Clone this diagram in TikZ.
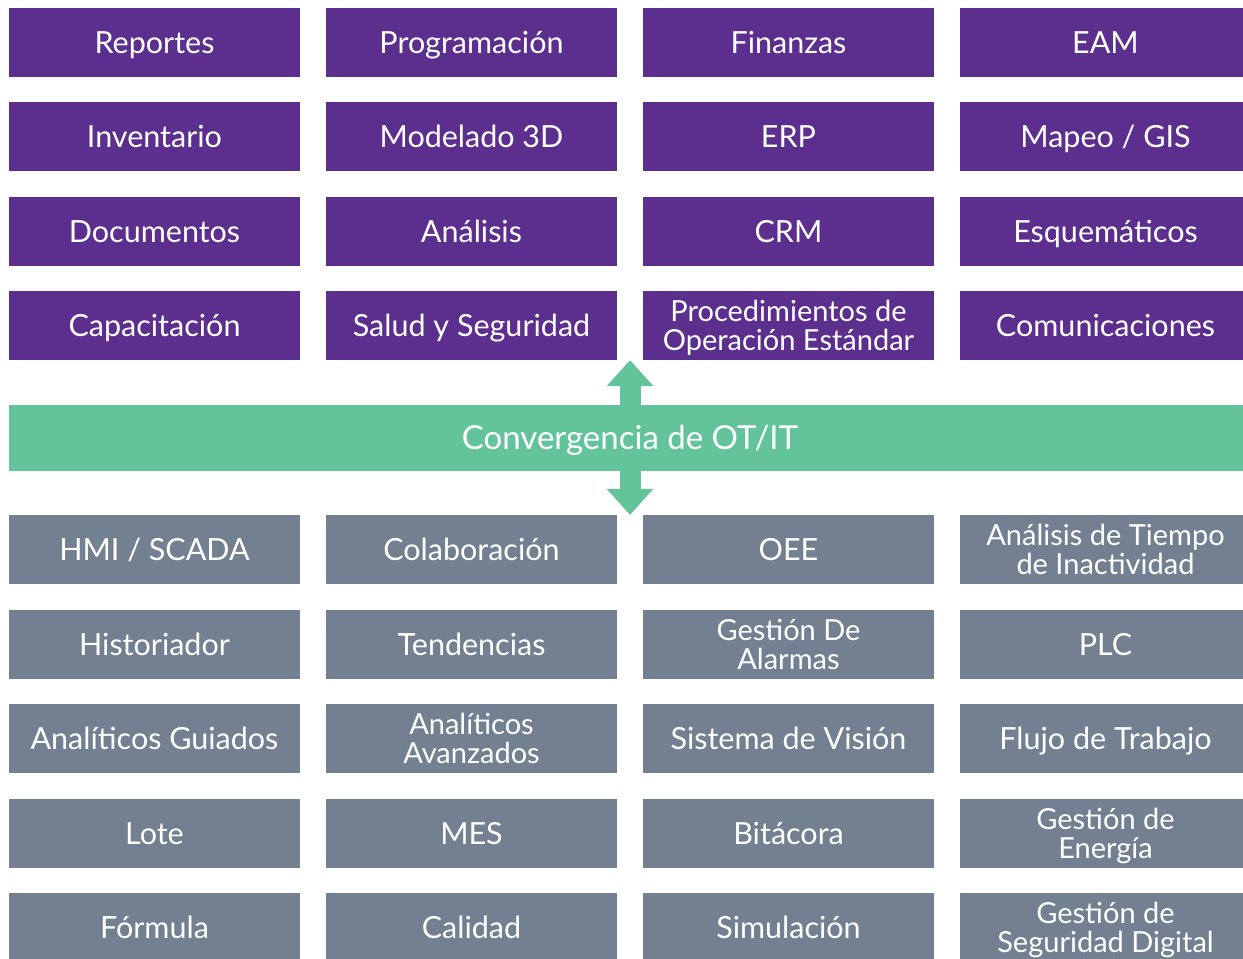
\documentclass[tikz,border=0pt]{standalone}
\usepackage{fontspec}
\setmainfont{Lato}
\usetikzlibrary{arrows.meta}
\definecolor{itx}{RGB}{92,47,143}
\definecolor{otx}{RGB}{114,128,145}
\definecolor{cvx}{RGB}{99,195,154}
\tikzset{
    tile/.style={text=white,inner sep=0pt,minimum width=291pt,minimum height=69pt,
        font=\fontsize{30.5}{33}\selectfont,text height=21.8pt,text depth=0pt},
    itbox/.style={tile,fill=itx},
    otbox/.style={tile,fill=otx},
    twoln/.style={font=\fontsize{29}{29}\selectfont,align=center,text height=49.8pt},
    band/.style={fill=cvx,text=white,inner sep=0pt,minimum width=1242pt,minimum height=66pt,
        font=\fontsize{33}{36}\selectfont,text height=23.6pt,text depth=0pt},
    link/.style={cvx,line width=21pt,-{Triangle[length=26pt,width=47pt,line width=0pt 0 0]}}
}
\begin{document}
\begin{tikzpicture}[x=1pt,y=-1pt]
    \useasboundingbox (0,0) rectangle (1243,959);
    \node [itbox] (it11) at (154.5,42.5) {Reportes};
    \node [itbox] (it12) at (471.5,42.5) {Programación};
    \node [itbox] (it13) at (788.5,42.5) {Finanzas};
    \node [itbox] (it14) at (1105.5,42.5) {EAM};
    \node [itbox] (it21) at (154.5,136.5) {Inventario};
    \node [itbox] (it22) at (471.5,136.5) {Modelado 3D};
    \node [itbox] (it23) at (788.5,136.5) {ERP};
    \node [itbox] (it24) at (1105.5,136.5) {Mapeo / GIS};
    \node [itbox] (it31) at (154.5,231.5) {Documentos};
    \node [itbox] (it32) at (471.5,231.5) {Análisis};
    \node [itbox] (it33) at (788.5,231.5) {CRM};
    \node [itbox] (it34) at (1105.5,231.5) {Esquemáticos};
    \node [itbox] (it41) at (154.5,325.5) {Capacitación};
    \node [itbox] (it42) at (471.5,325.5) {Salud y Seguridad};
    \node [itbox,twoln] (it43) at (788.5,325.5) {Procedimientos de\\Operación Estándar};
    \node [itbox] (it44) at (1105.5,325.5) {Comunicaciones};

    \node [band] (conv) at (630,438) {Convergencia de OT/IT};

    \node [otbox] (ot11) at (154.5,549.5) {HMI / SCADA};
    \node [otbox] (ot12) at (471.5,549.5) {Colaboración};
    \node [otbox] (ot13) at (788.5,549.5) {OEE};
    \node [otbox,twoln] (ot14) at (1105.5,549.5) {Análisis de Tiempo\\de Inactividad};
    \node [otbox] (ot21) at (154.5,644.5) {Historiador};
    \node [otbox] (ot22) at (471.5,644.5) {Tendencias};
    \node [otbox,twoln] (ot23) at (788.5,644.5) {Gestión De\\Alarmas};
    \node [otbox] (ot24) at (1105.5,644.5) {PLC};
    \node [otbox] (ot31) at (154.5,738.5) {Analíticos Guiados};
    \node [otbox,twoln] (ot32) at (471.5,738.5) {Analíticos\\Avanzados};
    \node [otbox] (ot33) at (788.5,738.5) {Sistema de Visión};
    \node [otbox] (ot34) at (1105.5,738.5) {Flujo de Trabajo};
    \node [otbox] (ot41) at (154.5,833.5) {Lote};
    \node [otbox] (ot42) at (471.5,833.5) {MES};
    \node [otbox] (ot43) at (788.5,833.5) {Bitácora};
    \node [otbox,twoln] (ot44) at (1105.5,833.5) {Gestión de\\Energía};
    \node [otbox] (ot51) at (154.5,927.5) {Fórmula};
    \node [otbox] (ot52) at (471.5,927.5) {Calidad};
    \node [otbox] (ot53) at (788.5,927.5) {Simulación};
    \node [otbox,twoln] (ot54) at (1105.5,927.5) {Gestión de\\Seguridad Digital};

    \coordinate (uptip) at (conv.north |- it42.south);
    \coordinate (dntip) at (conv.south |- ot12.north);
    \draw [link] (conv.north) -- (uptip);
    \draw [link] (conv.south) -- (dntip);
\end{tikzpicture}
\end{document}
